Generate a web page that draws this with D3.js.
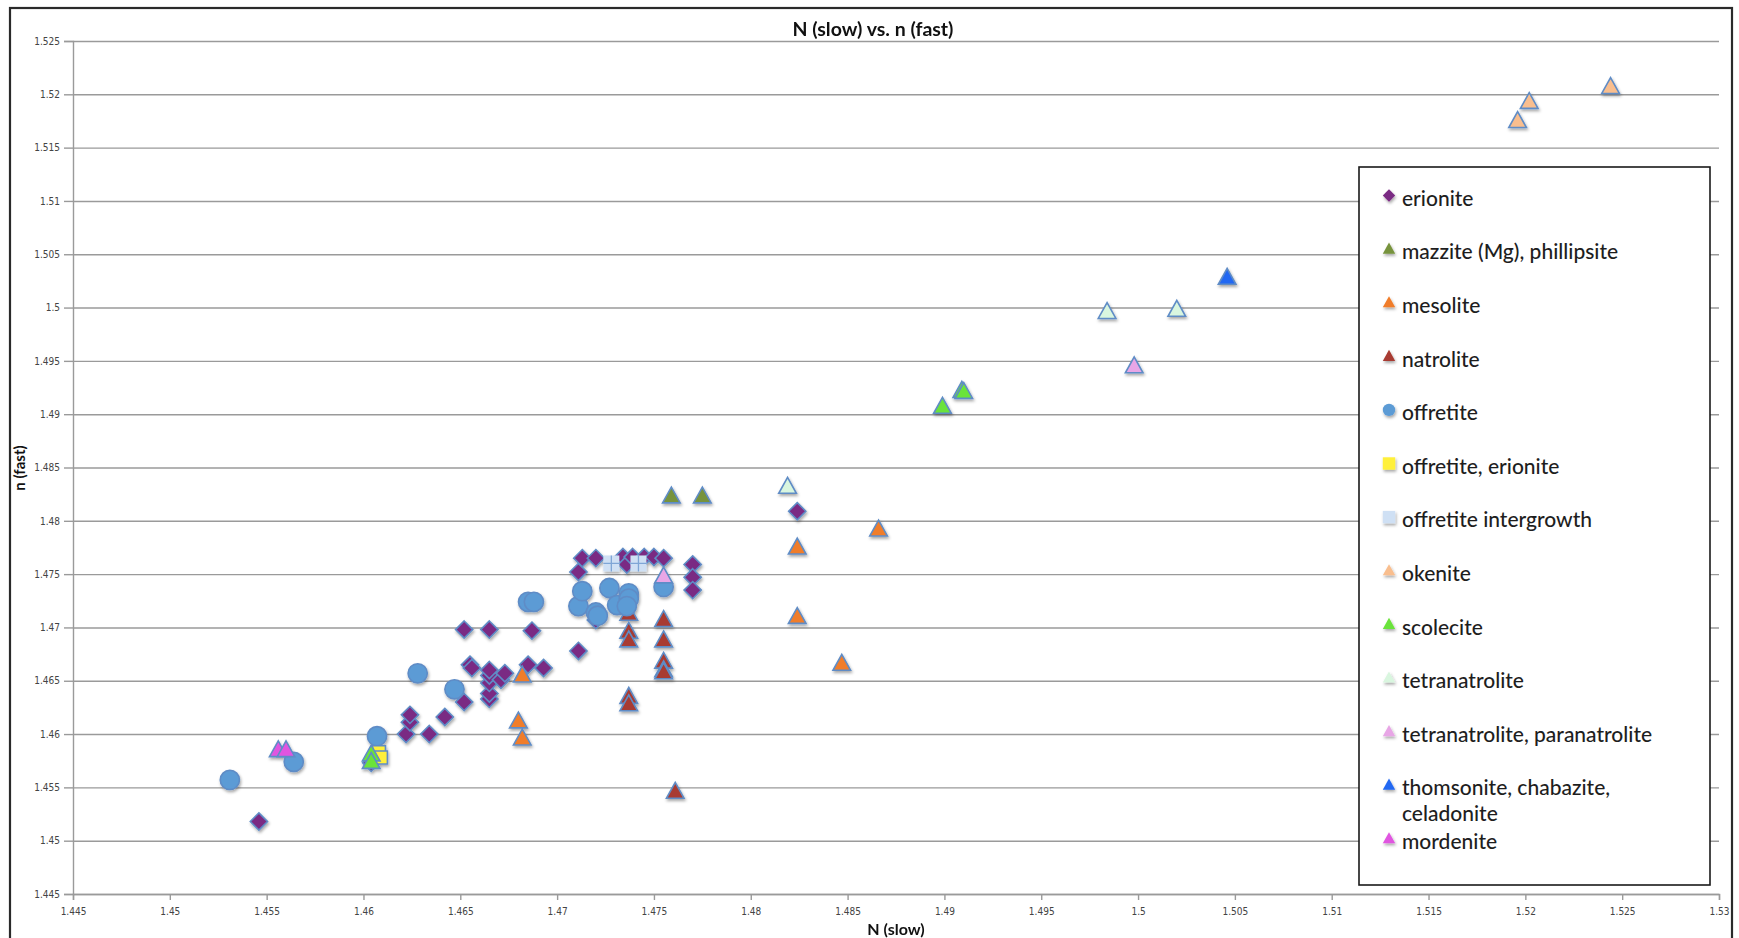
<!DOCTYPE html>
<html>
<head>
<meta charset="utf-8">
<script src="https://cdn.jsdelivr.net/npm/d3@7"></script>
<style>
  body { margin: 0; background: #fff; }
  .tick text { font-family: "Liberation Sans Narrow", "DejaVu Sans Condensed", "Roboto Condensed", "Liberation Sans", sans-serif; font-stretch: condensed; fill: #444; }
</style>
</head>
<body>
<div id="chart"></div>
<script>
// N (slow) vs. n (fast) scatter, one array of [N, n] pairs per mineral

const erionite = [
  [1.4546, 1.4518], [1.4604, 1.4573], [1.4622, 1.4600], [1.4634, 1.4600],
  [1.4624, 1.4611], [1.4624, 1.4618], [1.4642, 1.4616], [1.4652, 1.4630],
  [1.4655, 1.4665], [1.4656, 1.4662], [1.4665, 1.4633], [1.4665, 1.4638],
  [1.4665, 1.4648], [1.4665, 1.4655], [1.4665, 1.4660], [1.4671, 1.4651],
  [1.4673, 1.4657], [1.4685, 1.4665], [1.4693, 1.4662], [1.4652, 1.4698],
  [1.4665, 1.4698], [1.4687, 1.4697], [1.4711, 1.4678], [1.4720, 1.4707],
  [1.4711, 1.4752], [1.4713, 1.4765], [1.4720, 1.4765], [1.4734, 1.4766],
  [1.4736, 1.4759], [1.4739, 1.4766], [1.4745, 1.4766], [1.4750, 1.4766],
  [1.4755, 1.4765], [1.4770, 1.4759], [1.4770, 1.4747], [1.4770, 1.4735],
  [1.4824, 1.4809]
];
const mazzite = [[1.4759, 1.4823], [1.4775, 1.4823]];
const mesolite = [
  [1.4680, 1.4612], [1.4682, 1.4655], [1.4682, 1.4596], [1.4824, 1.4710],
  [1.4824, 1.4775], [1.4847, 1.4666], [1.4866, 1.4792]
];
const natrolite = [
  [1.4737, 1.4713], [1.4737, 1.4696], [1.4737, 1.4688], [1.4737, 1.4635],
  [1.4737, 1.4628], [1.4755, 1.4707], [1.4755, 1.4688], [1.4755, 1.4668],
  [1.4755, 1.4660], [1.4755, 1.4658], [1.4761, 1.4546]
];
const offretite = [
  [1.4531, 1.4557], [1.4564, 1.4574], [1.4607, 1.4598], [1.4628, 1.4657],
  [1.4647, 1.4642], [1.4685, 1.4724], [1.4688, 1.4724], [1.4711, 1.4720],
  [1.4713, 1.4734], [1.4720, 1.4714], [1.4721, 1.4711], [1.4727, 1.4737],
  [1.4731, 1.4721], [1.4737, 1.4732], [1.4737, 1.4727], [1.4736, 1.4720],
  [1.4755, 1.4738]
];
const offretiteErionite = [[1.4608, 1.4583], [1.4609, 1.4578]];
const offretiteIntergrowth = [[1.4728, 1.4760], [1.4742, 1.4760]];
const okenite = [[1.5196, 1.5175], [1.5202, 1.5193], [1.5244, 1.5207]];
const scolecite = [[1.4604, 1.4581], [1.4604, 1.4574], [1.4899, 1.4907], [1.4909, 1.4922], [1.4910, 1.4921]];
const tetranatrolite = [[1.4819, 1.4832], [1.4984, 1.4996], [1.5020, 1.4998]];
const tetraParanatrolite = [[1.4755, 1.4748], [1.4998, 1.4945]];
const thomsonite = [[1.5046, 1.5028]];
const mordenite = [[1.4556, 1.4585], [1.4560, 1.4585]];

const seriesNames = [
  "erionite", "mazzite (Mg), phillipsite", "mesolite", "natrolite", "offretite",
  "offretite, erionite", "offretite intergrowth", "okenite", "scolecite",
  "tetranatrolite", "tetranatrolite, paranatrolite", "thomsonite, chabazite, celadonite", "mordenite"
];
const seriesValues = [
  erionite, mazzite, mesolite, natrolite, offretite, offretiteErionite,
  offretiteIntergrowth, okenite, scolecite, tetranatrolite, tetraParanatrolite,
  thomsonite, mordenite
];

const xTicks = [1.445, 1.45, 1.455, 1.46, 1.465, 1.47, 1.475, 1.48, 1.485, 1.49, 1.495,
  1.5, 1.505, 1.51, 1.515, 1.52, 1.525, 1.53];
const yTicks = [1.445, 1.45, 1.455, 1.46, 1.465, 1.47, 1.475, 1.48, 1.485, 1.49, 1.495,
  1.5, 1.505, 1.51, 1.515, 1.52, 1.525];

// marker look per series (same order as seriesNames)
const styles = [
  { shape: "diamond", fill: "#7a2a83" },
  { shape: "triangle", fill: "#77933c" },
  { shape: "triangle", fill: "#f07d2a" },
  { shape: "triangle", fill: "#a83a30" },
  { shape: "circle", fill: "#5b9bd5" },
  { shape: "square", fill: "#fff03a" },
  { shape: "plus", fill: "#cfe0f4" },
  { shape: "triangle", fill: "#f9be8e" },
  { shape: "triangle", fill: "#6be33a" },
  { shape: "triangle", fill: "#d9f6df" },
  { shape: "triangle", fill: "#e8a6e6" },
  { shape: "triangle", fill: "#2468f2" },
  { shape: "triangle", fill: "#e055e0" }
];

const W = 1739, H = 938;
const svg = d3.select("#chart").append("svg")
  .attr("width", W)
  .attr("height", H)
  .style("font-family", "Lato, 'Open Sans', sans-serif");

const defs = svg.append("defs");
defs.append("filter")
  .attr("id", "shadow")
  .attr("x", "-50%").attr("y", "-50%")
  .attr("width", "200%").attr("height", "200%")
  .append("feDropShadow")
  .attr("dx", 1).attr("dy", 2)
  .attr("stdDeviation", 1.4)
  .attr("flood-color", "#000")
  .attr("flood-opacity", 0.35);

// outer frame of the chart
svg.append("rect")
  .attr("x", 10).attr("y", 8)
  .attr("width", 1722).attr("height", 940)
  .attr("fill", "none")
  .attr("stroke", "#2a2a2a")
  .attr("stroke-width", 2.2);

const x = d3.scaleLinear().domain([1.445, 1.53]).range([73, 1719]);
const y = d3.scaleLinear().domain([1.445, 1.525]).range([894, 41]);
const fmt = v => String(+v.toFixed(3));

// gridlines
svg.append("g")
  .attr("transform", `translate(${x.range()[0]},0)`)
  .call(d3.axisRight(y).tickValues(yTicks).tickSize(x.range()[1] - x.range()[0]).tickFormat(""))
  .call(g => g.select(".domain").remove())
  .call(g => g.selectAll("line").attr("stroke", "#9a9a9a").attr("stroke-width", 1.4));

// y axis
svg.append("g")
  .attr("transform", `translate(${x.range()[0]},0)`)
  .call(d3.axisLeft(y).tickValues(yTicks).tickSize(9).tickPadding(4).tickFormat(fmt))
  .call(g => g.select(".domain").attr("stroke", "#9a9a9a").attr("stroke-width", 1.4))
  .call(g => g.selectAll("line").attr("stroke", "#9a9a9a").attr("stroke-width", 1.4))
  .call(g => g.selectAll("text").style("font-size", "10px"));

// x axis
svg.append("g")
  .attr("transform", `translate(0,${y.range()[0]})`)
  .call(d3.axisBottom(x).tickValues(xTicks).tickSize(6).tickPadding(8).tickFormat(fmt))
  .call(g => g.select(".domain").attr("stroke", "#9a9a9a").attr("stroke-width", 1.4))
  .call(g => g.selectAll("line").attr("stroke", "#9a9a9a").attr("stroke-width", 1.4))
  .call(g => g.selectAll("text").style("font-size", "10px"));

// marker shapes, s = half size
function shapePath(shape, s) {
  switch (shape) {
    case "diamond":
      return `M0,${-s}L${s},0L0,${s}L${-s},0Z`;
    case "triangle":
      return `M0,${-s * 1.05}L${s},${s * 0.75}L${-s},${s * 0.75}Z`;
    case "circle":
      return d3.arc()({ innerRadius: 0, outerRadius: s, startAngle: 0, endAngle: 2 * Math.PI });
    default:
      return `M${-s},${-s}H${s}V${s}H${-s}Z`;
  }
}
const markerHalf = { diamond: 8.6, triangle: 8.8, circle: 9.6, square: 6.5, plus: 8 };

const points = svg.append("g").attr("filter", "url(#shadow)");

seriesValues.forEach((vals, i) => {
  const st = styles[i];
  const g = points.append("g").attr("class", "series");
  const marks = g.selectAll("g")
    .data(vals)
    .join("g")
    .attr("transform", d => `translate(${x(d[0])},${y(d[1])})`);

  marks.append("path")
    .attr("d", shapePath(st.shape, markerHalf[st.shape]))
    .attr("fill", st.fill)
    .attr("stroke", st.shape == "plus" ? "none" : "#5f8cc6")
    .attr("stroke-width", 1.6);

  if (st.shape == "plus") {
    const s = markerHalf.plus;
    marks.append("path")
      .attr("d", `M0,${-s}V${s}M${-s},0H${s}`)
      .attr("stroke", "#7fa6d6")
      .attr("stroke-width", 1.3);
  }
});

// title and axis titles
svg.append("text")
  .attr("x", 873).attr("y", 36)
  .attr("text-anchor", "middle")
  .style("font-size", "19.5px").style("font-weight", "bold")
  .attr("fill", "#111")
  .text("N (slow) vs. n (fast)");

svg.append("text")
  .attr("x", 896).attr("y", 935)
  .attr("text-anchor", "middle")
  .style("font-size", "16px").style("font-weight", "bold")
  .attr("fill", "#111")
  .text("N (slow)");

svg.append("text")
  .attr("transform", "translate(25,468) rotate(-90)")
  .attr("text-anchor", "middle")
  .style("font-size", "15px").style("font-weight", "bold")
  .attr("fill", "#111")
  .text("n (fast)");

// legend
const legend = svg.append("g");
legend.append("rect")
  .attr("x", 1359).attr("y", 167)
  .attr("width", 351).attr("height", 718)
  .attr("fill", "#fff")
  .attr("stroke", "#1a1a1a")
  .attr("stroke-width", 1.6);

const rowY = i => 198.5 + i * 53.6;
const items = legend.selectAll(".legend-item")
  .data(seriesNames)
  .join("g")
  .attr("class", "legend-item")
  .attr("transform", (d, i) => `translate(1389,${rowY(i)})`);

items.append("path")
  .attr("transform", "translate(0,-3)")
  .attr("d", (d, i) => shapePath(styles[i].shape == "plus" ? "square" : styles[i].shape, 6.2))
  .attr("fill", (d, i) => styles[i].fill)
  .attr("filter", "url(#shadow)");

items.append("text")
  .attr("x", 13)
  .attr("dy", "0.35em")
  .style("font-size", "21px")
  .style("font-weight", 500)
  .attr("fill", "#1e1e1e")
  .each(function(d) {
    const t = d3.select(this);
    if (d.startsWith("thomsonite")) {
      t.append("tspan").attr("x", 13).text("thomsonite, chabazite,");
      t.append("tspan").attr("x", 13).attr("dy", 25.5).text("celadonite");
    } else {
      t.text(d);
    }
  });
</script>
</body>
</html>
